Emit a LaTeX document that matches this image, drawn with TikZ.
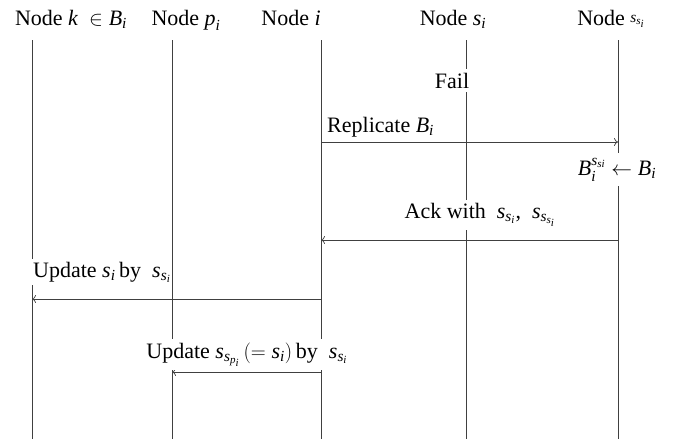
\documentclass[tikz,border=0pt]{standalone}
\usepackage{amsmath}
\usepackage{fontspec}
\setmainfont{Liberation Serif}
\usetikzlibrary{arrows.meta}

% italic letters for formulas, taken from the text font
\newcommand\Ls{\text{\itshape s}}
\newcommand\Li{\text{\itshape i}}
\newcommand\Lk{\text{\itshape k}}
\newcommand\Lp{\text{\itshape p}}
\newcommand\LB{\text{\itshape B}}

\begin{document}
\begin{tikzpicture}[x=1pt,y=-1pt,
  txt/.style={font=\fontsize{22}{26}\selectfont, inner sep=1pt, anchor=base},
  lbl/.style={txt, fill=white},
  life/.style={line width=0.9pt, draw=black!75},
  msg/.style={line width=0.7pt, draw=black!75, -{To[length=4pt,width=8pt]}}]
\useasboundingbox (0,0) rectangle (684,439);

% lifelines
\foreach \n/\x in {1/32,2/172,3/321,4/466,5/618}{
  \coordinate (t\n) at (\x,40);
  \coordinate (b\n) at (\x,439);
  \draw[life] (t\n) -- (b\n);
}

% headers
\node[txt] (h1) at (71,25) {Node $\Lk\ \in \LB_{\Li}$};
\node[txt] (h2) at (186,25) {Node $\Lp_{\Li}$};
\node[txt] (h3) at (291,25) {Node $\Li$};
\node[txt] (h4) at (453,25) {Node $\Ls_{\Li}$};
\node[txt] (h5) at (611,25) {Node \raisebox{3pt}{$\scriptstyle \Ls_{\Ls_{\Li}}$}};

% failure of node s_i
\node[lbl, inner ysep=4pt] (fail) at (452,88) {Fail};

% message endpoints on the lifelines
\coordinate (r3) at (321,142);
\coordinate (r5) at (618,142);
\coordinate (a5) at (618,240);
\coordinate (a3) at (321,240);
\coordinate (u3) at (321,299);
\coordinate (u1) at (32,299);
\coordinate (v3) at (321,372);
\coordinate (v2) at (172,372);

\draw[msg] (r3) -- (r5);
\draw[msg] (a5) -- (a3);
\draw[msg] (u3) -- (u1);
\draw[msg] (v3) -- (v2);

% message labels
\node[txt, anchor=base west] (lr) at (326,132) {Replicate $\LB_{\Li}$};
\node[lbl, inner ysep=5pt] (copy) at (617,175) {$\LB_{\Li}^{\Ls_{\Ls\Li}} \leftarrow \LB_{\Li}$};
\node[lbl, inner ysep=3pt] (la) at (480,218) {Ack with \ $\Ls_{\Ls_{\Li}}$, \ $\Ls_{\Ls_{\Ls_{\Li}}}$};
\node[lbl, anchor=base west, inner ysep=3pt] (lu) at (32,277) {Update $\Ls_{\Li}$\,by \ $\Ls_{\Ls_{\Li}}$};
\node[lbl, inner ysep=3pt] (lv) at (247,358) {Update $\Ls_{\Ls_{\Lp_{\Li}}}\,(=\Ls_{\Li})$\,by \ $\Ls_{\Ls_{\Li}}$};
\end{tikzpicture}
\end{document}
